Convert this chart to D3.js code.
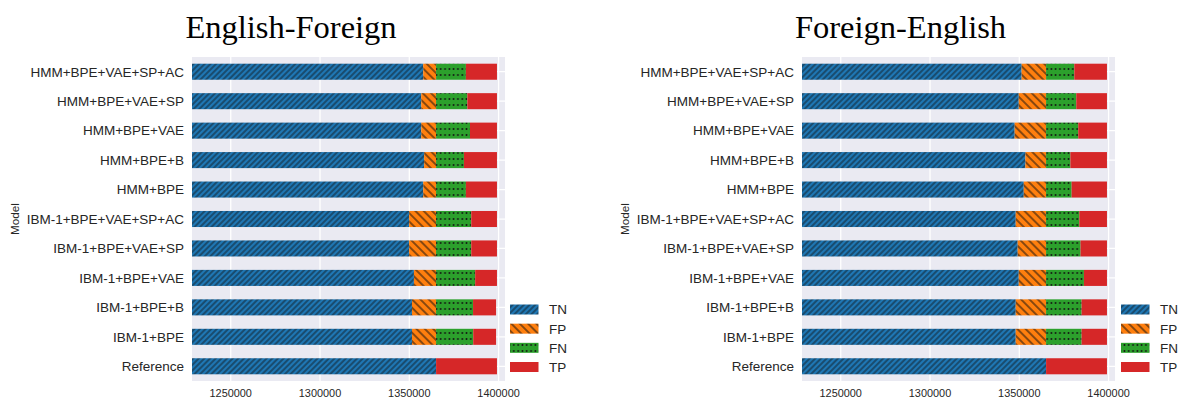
<!DOCTYPE html>
<html>
<head>
<meta charset="utf-8">
<script src="https://cdn.jsdelivr.net/npm/d3@7"></script>
<style>
  html, body { margin: 0; padding: 0; background: #ffffff; }
  svg { display: block; }
</style>
</head>
<body>
<svg id="chart" width="1182" height="398"></svg>
<script>
// Models, listed top to bottom
const models = [
  "HMM+BPE+VAE+SP+AC", "HMM+BPE+VAE+SP", "HMM+BPE+VAE", "HMM+BPE+B", "HMM+BPE",
  "IBM-1+BPE+VAE+SP+AC", "IBM-1+BPE+VAE+SP", "IBM-1+BPE+VAE", "IBM-1+BPE+B", "IBM-1+BPE",
  "Reference"
];
const classes = ["TN", "FP", "FN", "TP"];

// English-Foreign confusion counts
const enFoTN = [1357800, 1356700, 1356700, 1358300, 1357800, 1349900, 1349900, 1352600, 1351500, 1351500, 1365000];
const enFoFP = [7200, 8300, 8300, 6700, 7200, 15100, 15100, 12400, 13500, 13500, 0];
const enFoFN = [16700, 17500, 19000, 15600, 16700, 19700, 19700, 21900, 20700, 20800, 0];
const enFoTP = [17400, 16600, 15100, 18500, 17400, 14400, 14400, 12200, 12900, 12800, 34100];

// Foreign-English confusion counts
const foEnTN = [1351300, 1349700, 1347400, 1353400, 1352500, 1348000, 1349100, 1349700, 1348000, 1348000, 1365000];
const foEnFP = [13700, 15300, 17600, 11600, 12500, 17000, 15900, 15300, 17000, 17000, 0];
const foEnFN = [15800, 16900, 18000, 13600, 14300, 18600, 19300, 21200, 19900, 19900, 0];
const foEnTP = [18300, 17200, 16100, 20500, 19800, 15500, 14800, 12900, 14200, 14200, 34100];

const xTicks = [1250000, 1300000, 1350000, 1400000];
const xDomain = [1228300, 1403600];
const titles = ["English-Foreign", "Foreign-English"];
const yLabel = "Model";

const colors = { TN: "#1f77b4", FP: "#ff7f0e", FN: "#2ca02c", TP: "#d62728" };

const svg = d3.select("#chart");
const defs = svg.append("defs");

// Hatch fills: TN '///', FP '\\', FN dots, TP plain
function linePattern(id, bg, spacing, angle, width) {
  const p = defs.append("pattern")
    .attr("id", id)
    .attr("patternUnits", "userSpaceOnUse")
    .attr("width", spacing).attr("height", spacing)
    .attr("patternTransform", `rotate(${angle})`);
  p.append("rect").attr("width", spacing).attr("height", spacing).attr("fill", bg);
  p.append("line")
    .attr("x1", spacing / 2).attr("y1", -1)
    .attr("x2", spacing / 2).attr("y2", spacing + 1)
    .attr("stroke", "#111").attr("stroke-width", width);
}
linePattern("hatch-TN", colors.TN, 4.0, 45, 0.85);
linePattern("hatch-FP", colors.FP, 5.9, -45, 1.0);

const dots = defs.append("pattern")
  .attr("id", "hatch-FN")
  .attr("patternUnits", "userSpaceOnUse")
  .attr("width", 4.3).attr("height", 6);
dots.append("rect").attr("width", 4.3).attr("height", 6).attr("fill", colors.FN);
dots.append("circle").attr("cx", 2.15).attr("cy", 3).attr("r", 0.9).attr("fill", "#111");

const fillFor = k => k === "TP" ? colors.TP : `url(#hatch-${k})`;

const panels = [
  { title: titles[0], left: 192, right: 505, titleX: 291, yLabelX: 15,
    data: { TN: enFoTN, FP: enFoFP, FN: enFoFN, TP: enFoTP }, legendX: 510 },
  { title: titles[1], left: 802, right: 1115, titleX: 900.5, yLabelX: 625,
    data: { TN: foEnTN, FP: foEnFP, FN: foEnFN, TP: foEnTP }, legendX: 1121 }
];

const plotTop = 57, plotBottom = 381;

panels.forEach((pan, pi) => {
  const g = svg.append("g");

  const x = d3.scaleLinear().domain(xDomain).range([pan.left, pan.right]);
  const y = d3.scaleBand().domain(models).range([plotTop, plotBottom]).paddingInner(0).paddingOuter(0);
  const barH = y.bandwidth() * 0.545;

  const clipId = `clip-${pi}`;
  defs.append("clipPath").attr("id", clipId)
    .append("rect").attr("x", pan.left).attr("y", plotTop)
    .attr("width", pan.right - pan.left).attr("height", plotBottom - plotTop);

  // Plot background
  g.append("rect")
    .attr("x", pan.left).attr("y", plotTop)
    .attr("width", pan.right - pan.left).attr("height", plotBottom - plotTop)
    .attr("fill", "#eaeaf2");

  // Grid
  g.append("g").selectAll("line").data(xTicks).join("line")
    .attr("x1", d => x(d)).attr("x2", d => x(d))
    .attr("y1", plotTop).attr("y2", plotBottom)
    .attr("stroke", "#ffffff").attr("stroke-width", 1.25);
  g.append("g").selectAll("line").data(models).join("line")
    .attr("x1", pan.left).attr("x2", pan.right)
    .attr("y1", d => y(d) + y.bandwidth() / 2).attr("y2", d => y(d) + y.bandwidth() / 2)
    .attr("stroke", "#ffffff").attr("stroke-width", 1.25);

  // Stacked bars
  const rows = models.map((m, i) => {
    const r = { model: m };
    classes.forEach(k => { r[k] = pan.data[k][i]; });
    return r;
  });
  const series = d3.stack().keys(classes)(rows);

  const bars = g.append("g").attr("clip-path", `url(#${clipId})`);
  series.forEach(s => {
    bars.append("g").selectAll("rect").data(s).join("rect")
      .attr("x", d => x(d[0]))
      .attr("width", d => Math.max(0, x(d[1]) - x(d[0])))
      .attr("y", d => y(d.data.model) + (y.bandwidth() - barH) / 2)
      .attr("height", barH)
      .attr("fill", fillFor(s.key));
  });

  // X tick labels
  g.append("g").selectAll("text").data(xTicks).join("text")
    .attr("x", d => x(d)).attr("y", 396.5)
    .attr("text-anchor", "middle")
    .attr("font-family", "'Liberation Sans', Arial, sans-serif")
    .attr("font-size", 10.9).attr("fill", "#262626")
    .text(d => d3.format("d")(d));

  // Y tick labels
  g.append("g").selectAll("text").data(models).join("text")
    .attr("x", pan.left - 8)
    .attr("y", d => y(d) + y.bandwidth() / 2)
    .attr("dy", "0.36em")
    .attr("text-anchor", "end")
    .attr("font-family", "'Liberation Sans', Arial, sans-serif")
    .attr("font-size", 13.5).attr("fill", "#262626")
    .text(d => d);

  // Axis label
  g.append("text")
    .attr("transform", `translate(${pan.yLabelX + 4},${(plotTop + plotBottom) / 2}) rotate(-90)`)
    .attr("text-anchor", "middle")
    .attr("font-family", "'Liberation Sans', Arial, sans-serif")
    .attr("font-size", 11.7).attr("fill", "#262626")
    .text(yLabel);

  // Title
  g.append("text")
    .attr("x", pan.titleX).attr("y", 37.7)
    .attr("text-anchor", "middle")
    .attr("font-family", "'Liberation Serif', 'Times New Roman', serif")
    .attr("font-size", 32.5).attr("fill", "#000")
    .text(pan.title);

  // Legend
  const leg = g.append("g");
  const legY = d3.scalePoint().domain(classes).range([309.5, 367]);
  leg.selectAll("rect").data(classes).join("rect")
    .attr("x", pan.legendX).attr("y", d => legY(d) - 5)
    .attr("width", 28.5).attr("height", 10)
    .attr("fill", d => fillFor(d));
  leg.selectAll("text").data(classes).join("text")
    .attr("x", pan.legendX + 39).attr("y", d => legY(d))
    .attr("dy", "0.36em")
    .attr("font-family", "'Liberation Sans', Arial, sans-serif")
    .attr("font-size", 13.5).attr("fill", "#262626")
    .text(d => d);
});
</script>
</body>
</html>
